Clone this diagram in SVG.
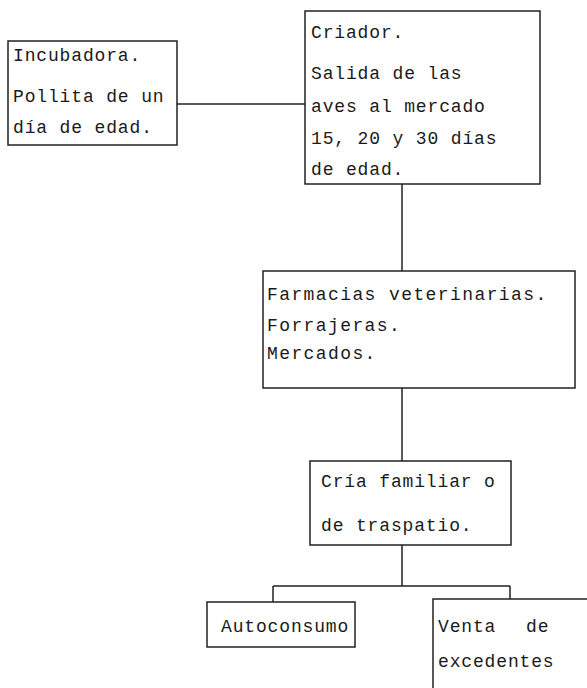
<svg xmlns="http://www.w3.org/2000/svg" width="587" height="688" viewBox="0 0 587 688">
<style>
.box{fill:none;stroke:#222;stroke-width:1.5}
.ln{fill:none;stroke:#222;stroke-width:1.5}
text{font-family:"Liberation Mono","Courier New",monospace;font-size:18px;letter-spacing:0.85px;fill:#1a1a1a}
</style>
<rect width="587" height="688" fill="#fff"/>
<g id="connectors">
<path class="ln" d="M177 104 H305"/>
<path class="ln" d="M402 184 V271"/>
<path class="ln" d="M402 388 V461"/>
<path class="ln" d="M402 545 V586 M273 586 H510 M273 586 V602 M510 586 V599"/>
</g>
<g id="incubadora">
<rect class="box" x="8" y="41" width="169" height="104"/>
<text x="13" y="61">Incubadora.</text>
<text x="13" y="102">Pollita de un</text>
<text x="13" y="133">día de edad.</text>
</g>
<g id="criador">
<rect class="box" x="305" y="11" width="235" height="173"/>
<text x="311" y="38">Criador.</text>
<text x="311" y="79">Salida de las</text>
<text x="311" y="112">aves al mercado</text>
<text x="311" y="144">15, 20 y 30 días</text>
<text x="311" y="175">de edad.</text>
</g>
<g id="farmacias">
<rect class="box" x="263" y="271" width="312" height="117"/>
<text x="267" y="300" style="letter-spacing:1.4px">Farmacias veterinarias.</text>
<text x="267" y="331" style="letter-spacing:1.4px">Forrajeras.</text>
<text x="267" y="359" style="letter-spacing:1.4px">Mercados.</text>
</g>
<g id="cria">
<rect class="box" x="310" y="461" width="201" height="84"/>
<text x="321" y="487">Cría familiar o</text>
<text x="321" y="531">de traspatio.</text>
</g>
<g id="autoconsumo">
<rect class="box" x="207" y="602" width="148" height="45"/>
<text x="221" y="632">Autoconsumo</text>
</g>
<g id="venta">
<path class="box" d="M587 599 H433 V688"/>
<text x="438" y="632">Venta<tspan x="526">de</tspan></text>
<text x="438" y="667">excedentes</text>
</g>
</svg>
